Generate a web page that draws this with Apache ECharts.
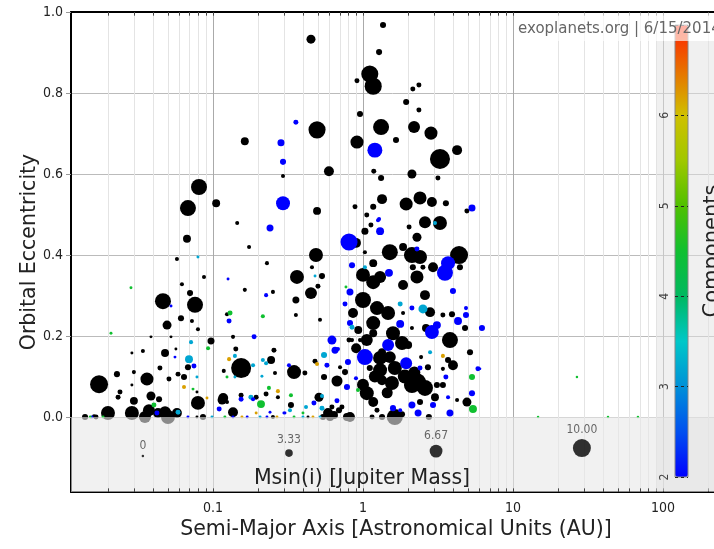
<!DOCTYPE html>
<html><head><meta charset="utf-8">
<script src="https://cdn.jsdelivr.net/npm/echarts@6/dist/echarts.min.js"></script>
<style>html,body{margin:0;padding:0;background:#fff}#c{width:714px;height:549px}</style>
</head><body><div id="c"></div>
<script>
const FONT = "'DejaVu Sans Condensed','DejaVu Sans',sans-serif";
const FONT_W = "'DejaVu Sans',Verdana,sans-serif";
// axis ranges
const xMin = 0.01131, xMax = 218.8, yMin = -0.185, yMax = 1.0;
const majorX = [0.1, 1, 10, 100];
const minorX = [0.02,0.03,0.04,0.05,0.06,0.07,0.08,0.09,0.2,0.3,0.4,0.5,0.6,0.7,0.8,0.9,2,3,4,5,6,7,8,9,20,30,40,50,60,70,80,90,200];
// colour scale for "Components" (value 2..7)
const cbColors = ['#0000ff','#0050f0','#0090d8','#00c8c8','#00b860','#10c030','#50c000','#a0c800','#d0c000','#e87000','#ff2000'];
// size legend
const legendMass = [0, 3.33, 6.67, 10];
const legendLabels = ['0','3.33','6.67','10.00'];
const legendA = [0.0341, 0.321, 3.07, 28.8];
const legendE = [-0.096, -0.089, -0.084, -0.0765];
// planets without component value: [a (AU), e, Msin(i)]
const blackPlanets = [
[1.36,.968,2.3],[0.45,.933,4.2],[1.28,.901,2.3],[1.11,.847,9.4],[1.17,.817,9.4],[0.912,.83,1.6],[2.15,.81,1.6],[2.36,.82,1.6],
[1.94,.778,2.3],[2.36,.758,1.6],[0.955,.748,2.3],[0.494,.709,9.4],[1.32,.716,8.7],[2.19,.716,6.1],[2.84,.701,6.8],[0.912,.679,6.8],
[1.66,.684,2.3],[0.163,.681,3.5],[0.0807,.568,8.7],[0.0681,.516,8.7],[0.105,.528,3.5],[0.145,.479,1],[0.174,.42,1],[0.0671,.44,3.5],
[0.0575,.39,1],[0.0871,.346,1],[0.593,.607,4.8],[0.293,.595,1],[1.18,.607,1.6],[0.494,.509,3.5],[0.898,.43,4.8],[0.885,.519,1.6],
[1.17,.519,2.3],[1.06,.499,1.6],[1.13,.474,1.6],[1.03,.459,2.9],[0.486,.40,7.4],[1.03,.407,1],[0.229,.38,1],[0.457,.37,1],
[1.17,.38,3.5],[0.533,.348,2.3],[0.363,.346,7.4],[3.26,.637,11.3],[4.24,.659,4.8],[2.12,.60,4.2],[1.32,.59,2.3],[3.16,.59,1.6],
[1.34,.538,4.8],[1.94,.526,6.8],[2.40,.541,6.8],[2.88,.531,4.8],[3.57,.528,2.3],[4.93,.509,1.6],[2.59,.481,6.1],[3.26,.479,7.4],
[2.03,.469,1.6],[2.29,.444,4.2],[1.51,.407,8.7],[1.85,.42,3.5],[2.12,.40,8.7],[2.40,.395,7.4],[4.37,.40,10],[4.43,.37,2.3],
[2.93,.37,4.8],[2.15,.37,2.3],[2.51,.37,1.6],[2.29,.346,6.8],[0.0621,.328,1],[0.0464,.286,8.7],[0.0759,.277,8.7],[0.0703,.306,2.3],
[0.0494,.227,4.2],[0.0612,.244,2.3],[0.0724,.237,1],[0.0794,.217,1],[0.0386,.198,0.3],[0.0525,.198,0.3],[0.097,.188,2.9],[0.0288,.158,0.3],
[0.0341,.163,1],[0.0479,.158,3.5],[0.0566,.168,0.3],[0.0681,.123,2.3],[0.0229,.106,2.3],[0.0297,.111,1],[0.0174,.081,10],[0.0363,.094,6.8],
[0.0443,.121,1.6],[0.0509,.094,1.6],[0.0585,.106,1.6],[0.0641,.099,2.3],[0.0288,.079,0.3],[0.024,.062,1.6],[0.0782,.062,0.3],[0.0233,.049,1.6],
[0.0386,.052,4.2],[0.0297,.04,3.5],[0.0437,.044,2.3],[0.0794,.035,7.4],[0.115,.042,4.2],[0.124,.037,1],[0.01995,.01,7.4],[0.0288,.01,7.4],
[0.0374,.017,6.1],[0.0479,.012,6.1],[0.0575,.01,4.8],[0.043,.01,4.8],[0.0501,0,7.4],[0.0352,0,6.1],[0.01403,0,2.3],[0.0161,.002,1],
[0.163,.314,1],[0.501,.323,1.6],[0.45,.306,6.1],[0.357,.289,2.9],[0.251,.309,1],[0.124,.254,1],[0.357,.252,1],[0.517,.24,1],
[0.136,.198,1],[0.142,.168,1.6],[0.255,.165,1.6],[0.244,.141,3.5],[0.154,.121,11.3],[0.118,.114,1],[0.347,.111,7.4],[0.259,.109,1],
[0.41,.109,1.6],[0.479,.138,1.6],[0.55,.099,2.3],[0.671,.089,5.5],[0.807,.19,1.6],[0.117,.047,4.8],[0.136,.012,4.8],[0.154,.054,1.6],
[0.194,.049,1.6],[0.226,.057,1.6],[0.271,.049,1],[0.331,.03,2.3],[0.509,.049,4.2],[0.585,.01,4.8],[0.641,.005,3.5],[0.621,.025,1.6],
[0.782,0,3.5],[0.251,0,1],[0.43,0,0.3],[1.0,.351,7.4],[1.17,.333,7.4],[1.30,.346,6.1],[1.85,.326,4.8],[2.59,.301,4.8],
[1.0,.289,8.7],[0.858,.257,4.8],[1.24,.269,7.4],[1.47,.257,7.4],[2.80,.259,4.8],[1.85,.257,1],[3.41,.252,1.6],[3.92,.254,2.3],
[4.79,.22,2.3],[1.17,.232,7.4],[2.12,.22,1],[2.63,.22,3.5],[3.80,.19,8.7],[1.17,.207,3.5],[1.585,.207,7.4],[1.82,.183,7.4],
[1.34,.16,3.5],[2.0,.178,3.5],[0.845,.19,1],[0.955,.19,1],[1.30,.146,7.4],[1.51,.148,6.1],[1.63,.121,7.4],[1.30,.116,7.4],
[1.11,.121,2.3],[2.44,.148,1],[2.71,.123,2.3],[3.69,.141,2.3],[3.98,.128,4.8],[3.41,.119,1],[3.41,.079,2.3],[5.17,.16,2.3],
[4.93,.037,4.2],[4.24,.042,1],[0.759,.111,2.3],[0.703,.123,1],[1.06,.059,7.4],[2.29,.086,10],[2.12,.079,8.7],[1.56,.084,7.4],
[1.34,.091,4.8],[1.17,.037,4.8],[2.59,.072,8.7],[3.11,.079,2.3],[3.02,.049,3.5],[2.40,.037,2.3],[2.75,0,2.3],[1.63,0,8.7],
[0.819,0,4.8],[1.15,0,1.6],[1.34,0,2.3],[0.724,.025,1.6],[1.82,.007,2.3],[0.0166,0,1.6],[0.0858,0,2.3],[0.603,0,3.5],
[0.541,0,2.3],[1.24,.017,1.6],[0.692,.017,2.3],[0.0782,0,0.3],
[1.06,.19,6.1],[0.90,.17,4.8],[1.20,.10,6.1],[1.90,.10,7.4],[2.20,.11,6.1],[1.0,.08,6.1],[0.93,.215,3.5],[1.45,.06,5.5]
];
// planets with component value: [a (AU), e, Msin(i), components]
const multiPlanets = [
[0.357,.728,1.6,2],[0.0794,.395,0.3,3.2],[0.126,.341,0.3,2],[1.20,.659,8,2],[0.284,.677,2.9,2],[0.293,.63,2.3,2],[0.293,.528,7.4,2],
[0.24,.467,2.9,2],[0.807,.432,9.4,2],[1.26,.486,1,2],[1.30,.459,3.5,2],[0.845,.375,2.3,2],[1.03,.37,1,3.2],[0.479,.348,0.3,3.2],
[5.33,.516,2.9,2],[1.28,.489,1,2],[3.02,.479,1,3.2],[2.29,.415,1.6,2],[3.69,.38,7.4,2],[3.52,.356,8.7,2],[1.49,.356,3.5,2],
[0.0284,.319,0.3,4.5],[0.0525,.274,0.3,2],[0.0209,.207,0.3,4.5],[0.0714,.185,1,3.2],[0.0927,.17,1,4.5],[0.0558,.148,0.3,2],
[0.0692,.143,3.5,3.2],[0.0747,.126,1.6,2],[0.0782,.099,0.3,3.2],[0.0641,.074,1,6.2],[0.0736,.069,0.3,4.5],[0.0912,.047,0.3,6.2],
[0.11,.02,1.6,2],[0.0585,.012,1.6,3.2],[0.0423,.01,1.6,2],[0.0404,.03,1.6,4.5],[0.226,.301,1,2],[0.13,.257,1.6,4.5],[0.128,.237,1.6,2],
[0.215,.249,1,4.5],[0.188,.198,1.6,2],[0.128,.143,1,6.2],[0.14,.151,1,3.2],[0.215,.141,1,3.2],[0.226,.133,1,3.2],[0.185,.128,1,3.2],
[0.124,.099,0.3,4.5],[0.14,.099,0.3,3.2],[0.321,.128,1,2],[0.212,.101,0.3,3.2],[0.494,.131,1,6.2],[0.55,.153,2.3,3.2],[0.575,.128,1.6,2],
[0.651,.165,2.9,2],[0.621,.19,4.2,2],[0.681,.168,1,2],[0.794,.136,2.3,2],[0.782,.074,2.3,2],[0.154,.044,1.6,2],[0.179,.049,1.6,3.2],
[0.185,.044,1,2],[0.209,.032,3.5,4.5],[0.271,.064,1,6.2],[0.236,.072,1,4.5],[0.331,.054,1,4.5],[0.326,.017,1,3.2],[0.297,.01,0.3,2],
[0.533,.052,1,3.2],[0.471,.035,1.6,2],[0.417,.025,1,3.2],[0.533,.022,1.6,3.2],[0.671,.04,1.6,2],[0.156,0,0.3,6.2],[0.206,0,0.3,3.2],
[0.267,0,0.3,6.2],[0.229,0,0.3,2],[0.398,0,0.3,3.2],[0.0185,0,0.3,4.5],
[0.347,0,0.3,4.5],[0.464,0,0.3,6.2],[0.517,0,0.3,3.2],[0.24,.012,0.3,2],[0.194,.01,0.3,6.2],[0.302,.01,0.3,2],
[0.398,.01,0.3,4.5],[3.98,.311,2.3,2],[0.819,.309,2.9,2],[0.77,.321,0.3,4.5],[0.759,.279,1.6,2],[1.77,.279,1.6,3.2],[2.12,.269,1.6,2],
[2.51,.267,4.2,3.2],[4.86,.269,1,2],[4.86,.252,2.3,2],[4.30,.237,3.5,2],[6.21,.22,2.3,2],[0.819,.232,2.3,2],[0.845,.222,1.6,3.2],
[1.77,.23,3.5,2],[2.88,.21,7.4,2],[3.11,.227,3.5,2],[1.47,.178,6.1,2],[1.03,.148,8.7,2],[1.94,.133,6.1,2],[2.80,.16,1,3.2],
[2.40,.121,1.6,2],[3.41,.151,1,6.2],[3.57,.099,1.6,2],[5.84,.119,1.6,2],[5.33,.099,2.3,4.5],[5.33,.059,2.3,2],[5.41,.02,3.5,4.5],
[3.80,.01,2.9,2],[3.69,.049,1,2],[0.898,.096,1,2],[0.926,.067,1,4.5],[2.93,.03,2.3,2],[2.12,.03,2.9,2],[2.33,.01,2.9,2],
[1.585,.022,2.3,2],[0.0156,0,0.3,2],[0.0681,0,0.3,2],[0.0985,0,0.3,3.2],[0.12,0,0.3,4.5],[0.136,0,0.3,2],[0.169,0,0.3,2],
[1.77,.017,1,2],[0.0152,0,0.3,4.5],[26.7,.099,0,4.5],[14.7,0,0,4.5],[43,0,0,4.5],[68.1,0,0,4.5],[6.03,.119,0,2]
];

const sz = m => 2.5 + 1.55 * m;
const seg = (v, y0, y1) => [{coord:[v, y0]}, {coord:[v, y1]}];
const allX = majorX.concat(minorX);

const chart = echarts.init(document.getElementById('c'), null, {renderer:'canvas'});
chart.setOption({
  animation:false,
  backgroundColor:'#fff',
  textStyle:{fontFamily:FONT},
  grid:[
    {left:71, top:12, width:643, height:480, show:false},
    {left:675, top:25, width:13, height:452, show:true, borderColor:'#888', borderWidth:1, z:10}
  ],
  xAxis:[
    {type:'log', logBase:10, gridIndex:0, min:xMin, max:xMax, position:'bottom',
     axisLine:{show:true, onZero:false, lineStyle:{color:'#000', width:2}}, axisTick:{show:false},
     axisLabel:{fontSize:14, color:'#222', margin:9, showMinLabel:false, showMaxLabel:false, fontFamily:FONT},
     splitLine:{show:true, lineStyle:{color:'#aaa', width:1}}},
    {type:'value', gridIndex:1, show:false, min:0, max:1},
    {type:'log', logBase:10, gridIndex:0, min:xMin, max:xMax, position:'top',
     axisLine:{show:true, onZero:false, lineStyle:{color:'#000', width:2}}, axisTick:{show:false},
     axisLabel:{show:false}, splitLine:{show:false}}
  ],
  yAxis:[
    {type:'value', gridIndex:0, min:yMin, max:yMax,
     axisLine:{show:true, onZero:false, lineStyle:{color:'#000', width:2}},
     axisTick:{show:true, length:5, lineStyle:{color:'#999'}},
     axisLabel:{fontSize:14, color:'#222', margin:8, showMinLabel:false, fontFamily:FONT,
       formatter: v => v < -0.001 ? '' : v.toFixed(1)},
     splitLine:{show:true, lineStyle:{color:'#bbb', width:1}},
     name:'Orbital Eccentricity', nameLocation:'middle', nameGap:31, nameMoveOverlap:false,
     nameTextStyle:{fontSize:20.5, color:'#222', fontFamily:FONT_W}},
    {type:'value', gridIndex:1, min:2, max:7, interval:1, position:'left', z:10,
     axisLine:{show:false}, axisTick:{show:false},
     axisLabel:{rotate:90, fontSize:12, color:'#444', margin:4, showMinLabel:true, showMaxLabel:false, fontFamily:FONT},
     splitLine:{show:true, lineStyle:{color:'#222', type:[3,3], width:1}}}
  ],
  visualMap:{
    type:'continuous', seriesIndex:2, dimension:3, min:2, max:7,
    inRange:{color:cbColors}, show:true, calculable:false, orient:'vertical',
    left:670, top:20, padding:5, itemWidth:13, itemHeight:452, text:null, showLabel:false,
    hoverLink:false, z:6
  },
  series:[
    {type:'scatter', xAxisIndex:0, yAxisIndex:0, data:[], z:1, silent:true,
     markLine:{silent:true, z:1, symbol:['none','none'], label:{show:false}, animation:false,
       lineStyle:{color:'#e4e4e4', width:1, type:'solid'},
       data: minorX.map(v => seg(v, yMin, yMax))}},
    {type:'scatter', name:'planets', xAxisIndex:0, yAxisIndex:0, z:2, data:blackPlanets,
     symbolSize: v => sz(v[2]), itemStyle:{color:'#000', opacity:1}},
    {type:'scatter', name:'multi', xAxisIndex:0, yAxisIndex:0, z:2, data:multiPlanets,
     symbolSize: v => sz(v[2]), itemStyle:{opacity:1}},
    {type:'scatter', xAxisIndex:0, yAxisIndex:0, data:[], z:3, silent:true,
     markArea:{silent:true, z:3, itemStyle:{color:'rgba(232,232,232,0.6)'},
       data:[[{coord:[xMin, yMin]}, {coord:[xMax, 0]}]]}},
    {type:'scatter', xAxisIndex:0, yAxisIndex:0, data:[], z:4, silent:true,
     markLine:{silent:true, z:4, symbol:['none','none'], label:{show:false}, animation:false,
       lineStyle:{color:'#444', width:1, type:'solid'},
       data: allX.map(v => seg(v, yMax, yMax - 0.009)).concat(allX.map(v => seg(v, yMin, yMin + 0.009)))}},
    {type:'scatter', xAxisIndex:0, yAxisIndex:0, z:5, silent:true,
     data: legendA.map((a, i) => [a, legendE[i], legendMass[i]]),
     symbolSize: v => sz(v[2]), itemStyle:{color:'#000'},
     label:{show:true, position:'top', distance:3, fontSize:12, color:'#444', fontFamily:FONT,
       formatter: p => legendLabels[p.dataIndex]}}
  ],
  graphic:[
    {type:'rect', z:5, silent:true, shape:{x:656, y:41, width:58, height:450}, style:{fill:'rgba(226,226,226,0.5)'}},
    {type:'rect', z:20, silent:true, shape:{x:514, y:13, width:200, height:28}, style:{fill:'rgba(255,255,255,0.65)'}},
    {type:'text', z:21, silent:true, x:518, y:29, style:{text:'exoplanets.org | 6/15/2014', font:'15px ' + FONT_W, fill:'#666', verticalAlign:'middle'}},
    {type:'text', z:21, silent:true, x:713, y:251, rotation:Math.PI/2, style:{text:'Components', font:'21px ' + FONT_W, fill:'#222', align:'center', verticalAlign:'middle'}},
    {type:'text', z:21, silent:true, x:362, y:479, style:{text:'Msin(i) [Jupiter Mass]', font:'20.5px ' + FONT_W, fill:'#222', align:'center', verticalAlign:'middle'}},
    {type:'text', z:21, silent:true, x:396, y:530, style:{text:'Semi-Major Axis [Astronomical Units (AU)]', font:'20.5px ' + FONT_W, fill:'#222', align:'center', verticalAlign:'middle'}}
  ]
});
</script></body></html>
